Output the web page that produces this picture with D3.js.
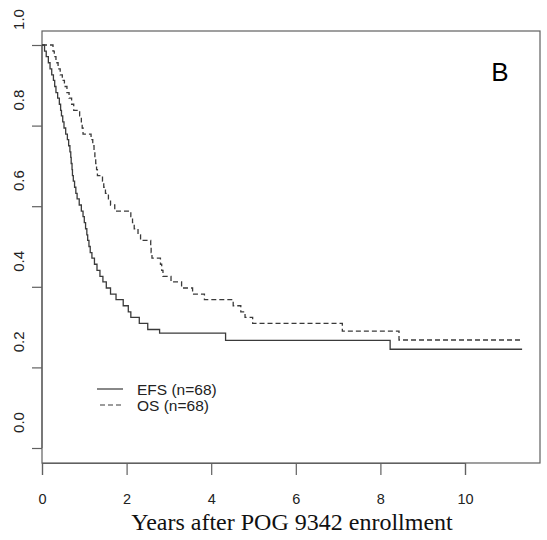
<!DOCTYPE html>
<html>
<head>
<meta charset="utf-8">
<script src="https://cdn.jsdelivr.net/npm/d3@7"></script>
<style>
  html, body { margin: 0; padding: 0; background: #fff; }
  svg { display: block; }
</style>
</head>
<body>
<svg id="chart" width="547" height="540"></svg>
<script>
// ---- data ----
const xTicks = [0, 2, 4, 6, 8, 10];
const yTicks = [0.0, 0.2, 0.4, 0.6, 0.8, 1.0];
const yTickLabels = ["0.0", "0.2", "0.4", "0.6", "0.8", "1.0"];
const seriesNames = ["EFS (n=68)", "OS (n=68)"];
const panelLabel = "B";
const xTitle = "Years after POG 9342 enrollment";

// Event-free survival: step times (years) and survival after each step
const efsTime = [0, 0.06, 0.10, 0.15, 0.19, 0.23, 0.27, 0.30, 0.33, 0.37, 0.41,
  0.44, 0.46, 0.49, 0.52, 0.56, 0.60, 0.63, 0.66, 0.68, 0.69,
  0.71, 0.72, 0.74, 0.77, 0.80, 0.83, 0.88, 0.93, 0.97, 1.00,
  1.03, 1.06, 1.08, 1.11, 1.14, 1.18, 1.24, 1.30, 1.37, 1.44,
  1.52, 1.62, 1.75, 1.92, 2.04, 2.10, 2.30, 2.50, 2.78, 4.34, 8.23, 11.35];
const efsSurv = [1.000, 0.985, 0.971, 0.956, 0.941, 0.926, 0.912, 0.897, 0.882, 0.868, 0.853,
  0.838, 0.824, 0.809, 0.794, 0.779, 0.765, 0.750, 0.735, 0.721, 0.706,
  0.691, 0.676, 0.662, 0.647, 0.632, 0.618, 0.603, 0.588, 0.574, 0.559,
  0.544, 0.529, 0.515, 0.500, 0.485, 0.471, 0.456, 0.441, 0.426, 0.412,
  0.397, 0.382, 0.368, 0.353, 0.338, 0.324, 0.309, 0.294, 0.285, 0.267, 0.245, 0.245];

// Overall survival
const osTime = [0, 0.26, 0.29, 0.33, 0.38, 0.43, 0.48, 0.53, 0.59, 0.64, 0.70,
  0.75, 0.89, 0.93, 0.95, 0.97, 1.16, 1.20, 1.23, 1.25, 1.27,
  1.29, 1.31, 1.43, 1.46, 1.50, 1.57, 1.62, 1.72, 2.10, 2.14,
  2.18, 2.27, 2.33, 2.57, 2.58, 2.60, 2.80, 2.83, 2.86, 3.05,
  3.30, 3.56, 3.84, 4.52, 4.70, 4.80, 4.98, 7.10, 8.44, 11.35];
const osSurv = [1.000, 0.985, 0.971, 0.956, 0.941, 0.926, 0.912, 0.897, 0.882, 0.868, 0.853,
  0.838, 0.824, 0.809, 0.794, 0.779, 0.765, 0.750, 0.735, 0.721, 0.706,
  0.691, 0.676, 0.662, 0.647, 0.632, 0.618, 0.603, 0.588, 0.574, 0.559,
  0.544, 0.529, 0.515, 0.500, 0.485, 0.471, 0.456, 0.441, 0.426, 0.412,
  0.397, 0.382, 0.368, 0.353, 0.338, 0.324, 0.309, 0.290, 0.268, 0.268];

// ---- layout ----
const svg = d3.select("#chart");
const box = { left: 42, top: 31, right: 540, bottom: 463 };
const x = d3.scaleLinear().domain([0, 10]).range([42, 465]);
const y = d3.scaleLinear().domain([0, 1]).range([448, 45]);
const ink = "#3a3a3a";
const frame = "#606060";

// plot frame
svg.append("rect")
  .attr("x", box.left).attr("y", box.top)
  .attr("width", box.right - box.left).attr("height", box.bottom - box.top)
  .attr("fill", "none").attr("stroke", frame).attr("stroke-width", 1.2);

// x axis
const xAxis = d3.axisBottom(x).tickValues(xTicks).tickSize(12).tickFormat(d3.format("d"));
const gx = svg.append("g").attr("transform", `translate(0,${box.bottom})`).call(xAxis);
gx.select(".domain").attr("stroke", frame).attr("stroke-width", 1.2);
gx.selectAll(".tick line").attr("stroke", frame).attr("stroke-width", 1.2);
gx.selectAll(".tick text")
  .attr("y", 41).attr("dy", 0)
  .attr("font-family", "'Liberation Sans', Arial, sans-serif")
  .attr("font-size", 14.5).attr("fill", "#222");

// y axis (labels drawn a bit above their ticks, as in the reference)
const yAxis = d3.axisLeft(y).tickValues(yTicks).tickSize(10).tickFormat((d, i) => yTickLabels[i]);
const gy = svg.append("g").attr("transform", `translate(${box.left},0)`).call(yAxis);
gy.select(".domain").attr("stroke", frame).attr("stroke-width", 1.2)
  .attr("d", `M0,${y(1)}V${y(0)}`);
gy.selectAll(".tick line").attr("stroke", frame).attr("stroke-width", 1.2);
gy.selectAll(".tick text").remove();
gy.selectAll(".tick").append("text")
  .attr("transform", "translate(-18,-26) rotate(-90)")
  .attr("text-anchor", "middle")
  .attr("font-family", "'Liberation Sans', Arial, sans-serif")
  .attr("font-size", 15).attr("fill", "#222")
  .text((d, i) => yTickLabels[i]);

// curves
const line = d3.line().x(d => x(d[0])).y(d => y(d[1])).curve(d3.curveStepAfter);
const efs = efsTime.map((t, i) => [t, efsSurv[i]]);
const os = osTime.map((t, i) => [t, osSurv[i]]);

svg.append("path").datum(efs).attr("d", line)
  .attr("fill", "none").attr("stroke", ink).attr("stroke-width", 1.3);
svg.append("path").datum(os).attr("d", line)
  .attr("fill", "none").attr("stroke", ink).attr("stroke-width", 1.3)
  .attr("stroke-dasharray", "5,3");

// legend
const legend = svg.append("g");
const legY = [389, 405];
const dash = [null, "5,3"];
seriesNames.forEach((name, i) => {
  legend.append("line")
    .attr("x1", i === 0 ? 97 : 100).attr("x2", 123)
    .attr("y1", legY[i]).attr("y2", legY[i])
    .attr("stroke", ink).attr("stroke-width", 1.2)
    .attr("stroke-dasharray", dash[i]);
  legend.append("text")
    .attr("x", 137).attr("y", legY[i] + 5.5)
    .attr("font-family", "'Liberation Sans', Arial, sans-serif")
    .attr("font-size", 15.5).attr("fill", "#222")
    .text(name);
});

// panel label
svg.append("text")
  .attr("x", 500).attr("y", 81)
  .attr("text-anchor", "middle")
  .attr("font-family", "'Liberation Sans', Arial, sans-serif")
  .attr("font-size", 26).attr("fill", "#000")
  .text(panelLabel);

// x-axis title
svg.append("text")
  .attr("x", 292).attr("y", 530)
  .attr("text-anchor", "middle")
  .attr("font-family", "'Liberation Serif', 'Times New Roman', serif")
  .attr("font-size", 24).attr("fill", "#111")
  .text(xTitle);
</script>
</body>
</html>
